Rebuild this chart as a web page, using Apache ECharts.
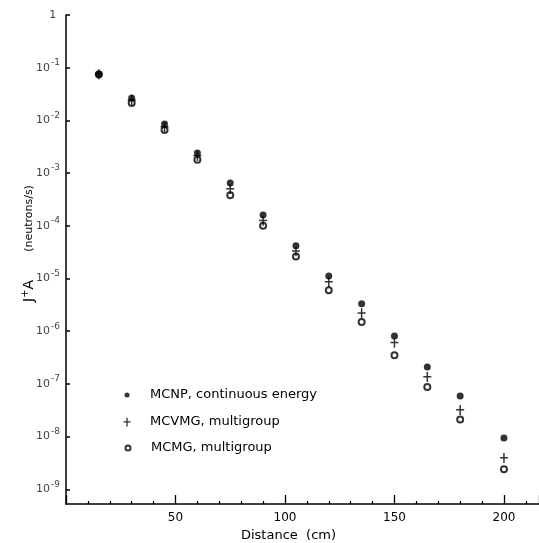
<html>
<head>
<meta charset="utf-8">
<script src="https://cdn.jsdelivr.net/npm/echarts@6/dist/echarts.min.js"></script>
</head>
<body style="margin:0;background:#fff;">
<div id="chart" style="width:539px;height:543px;"></div>
<script type="text/javascript">
// distance (cm) and J+A (neutrons/s)
var distance = [15, 30, 45, 60, 75, 90, 105, 120, 135, 150, 165, 180, 200];
var mcnp  = [0.076, 0.0266, 0.0085, 0.0024, 6.5e-4, 1.6e-4, 4.2e-5, 1.12e-5, 3.3e-6, 8.1e-7, 2.1e-7, 5.9e-8, 9.4e-9];
var mcvmg = [0.075, 0.024, 0.0075, 0.0021, 5.0e-4, 1.25e-4, 3.3e-5, 8.6e-6, 2.2e-6, 6.0e-7, 1.35e-7, 3.2e-8, 3.9e-9];
var mcmg  = [0.074, 0.0214, 0.0066, 0.0018, 3.8e-4, 1.0e-4, 2.6e-5, 6.0e-6, 1.5e-6, 3.5e-7, 8.7e-8, 2.1e-8, 2.4e-9];
var seriesNames = ['MCNP, continuous energy', 'MCVMG, multigroup', 'MCMG, multigroup'];
var xTickLabels = ['50', '100', '150', '200'];

var font = 'DejaVu Sans';
var plus = 'path://M3.25,0h1.5v10h-1.5zM0,4h8v1.5h-8z';

function pairs(ys) {
	return distance.map(function (d, i) { return [d, ys[i]]; });
}

// one legend per series so each icon gets its own size
function legendFor(name, icon, w, h, top) {
	return {
		orient: 'vertical',
		left: 127 - w / 2,
		top: top,
		padding: 0,
		itemWidth: w,
		itemHeight: h,
		textStyle: { fontFamily: font, fontSize: 13, color: '#000', lineHeight: 14, padding: [0, 0, 0, 18 - w / 2] },
		data: [{ name: name, icon: icon }]
	};
}

var myChart = echarts.init(document.getElementById('chart'));
var option = {
	backgroundColor: '#fff',
	animation: false,
	textStyle: { fontFamily: font, color: '#000' },
	grid: { left: 66, right: 0, top: 15, bottom: 39, outerBoundsMode: 'none' },
	legend: [
		legendFor(seriesNames[0], 'circle', 5, 5, 388),
		legendFor(seriesNames[1], plus, 7, 11, 415),
		legendFor(seriesNames[2], 'emptyCircle', 5, 5, 441)
	],
	xAxis: {
		type: 'value',
		min: 0,
		max: 216,
		interval: 50,
		name: 'Distance  (cm)',
		nameLocation: 'middle',
		nameGap: 24,
		nameTextStyle: { fontFamily: font, fontSize: 13, color: '#000', padding: [0, 28, 0, 0] },
		axisLine: { lineStyle: { color: '#000', width: 1.5 } },
		axisTick: { inside: true, length: 9, lineStyle: { color: '#000', width: 1.3 } },
		minorTick: { show: true, splitNumber: 5, length: 3, lineStyle: { color: '#000', width: 1.2 } },
		splitLine: { show: false },
		axisLabel: {
			fontFamily: font, fontSize: 12, color: '#000', margin: 8,
			showMaxLabel: false,
			formatter: function (v) {
				var idx = [50, 100, 150, 200].indexOf(v);
				return idx >= 0 ? xTickLabels[idx] : '';
			}
		}
	},
	yAxis: {
		type: 'log',
		logBase: 10,
		min: 5.25e-10,
		max: 1,
		splitNumber: 10,
		name: '{n|J}{p|+}{n|A}{m|        (neutrons/s)}',
		nameLocation: 'middle',
		nameGap: 28,
		nameRotate: 90,
		nameMoveOverlap: false,
		nameTextStyle: {
			fontFamily: font, fontSize: 11, color: '#000',
			padding: [0, 0, 0, 32],
			rich: {
				n: { fontFamily: font, fontSize: 14, color: '#000' },
				m: { fontFamily: font, fontSize: 11, color: '#000' },
				p: { fontFamily: font, fontSize: 10, color: '#000', padding: [0, 0, 8, 0] }
			}
		},
		axisLine: { lineStyle: { color: '#000', width: 1.5 } },
		axisTick: { inside: true, length: 4, lineStyle: { color: '#000', width: 1.5 } },
		splitLine: { show: false },
		axisLabel: {
			fontFamily: font, color: '#444', margin: 6,
			showMinLabel: false,
			showMaxLabel: true,
			formatter: function (v) {
				var e = Math.round(Math.log10(v));
				if (e === 0) return '{b|1}{s| }';
				return '{b|10}{s|' + e + '}';
			},
			rich: {
				b: { fontFamily: font, fontSize: 11, color: '#444' },
				s: { fontFamily: font, fontSize: 9, color: '#444', padding: [0, 0, 10, 1] }
			}
		}
	},
	series: [
		{
			name: seriesNames[2],
			type: 'scatter',
			symbol: 'emptyCircle',
			symbolSize: 6,
			itemStyle: { color: '#000', borderColor: '#000', borderWidth: 1.5 },
			data: pairs(mcmg)
		},
		{
			name: seriesNames[1],
			type: 'scatter',
			symbol: plus,
			symbolSize: [8, 10],
			itemStyle: { color: '#000' },
			data: pairs(mcvmg)
		},
		{
			name: seriesNames[0],
			type: 'scatter',
			symbol: 'circle',
			symbolSize: 7,
			itemStyle: { color: '#000' },
			data: pairs(mcnp)
		}
	]
};
myChart.setOption(option);
</script>
</body>
</html>
